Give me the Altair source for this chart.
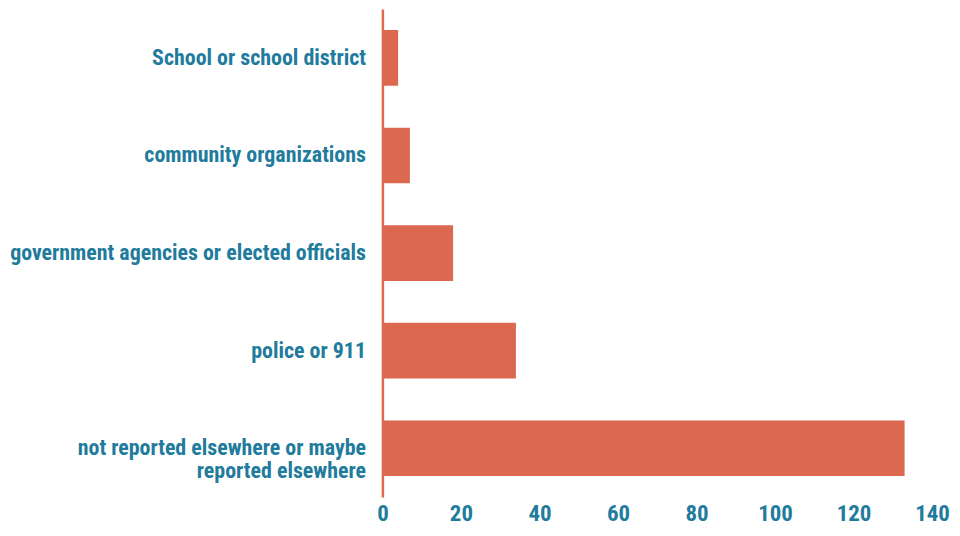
import altair as alt
import pandas as pd

categories = [
    "School or school district",
    "community organizations",
    "government agencies or elected officials\u00a0",
    "police or 911\u00a0",
    "not reported elsewhere or maybe\nreported elsewhere",
]
values = [4, 7, 18, 34, 133]
x_ticks = [0, 20, 40, 60, 80, 100, 120, 140]

df = pd.DataFrame({"category": categories, "value": values})

FONT = "'Roboto Condensed', 'Liberation Sans Narrow', 'DejaVu Sans Condensed', sans-serif"
TEAL = "#217b9c"
BAR = "#dc6850"

chart = (
    alt.Chart(df)
    .mark_bar(color=BAR)
    .encode(
        x=alt.X(
            "value:Q",
            scale=alt.Scale(domain=[0, 140], nice=False, zero=True),
            axis=alt.Axis(
                values=x_ticks,
                title=None,
                grid=False,
                domain=False,
                ticks=False,
                labelFont=FONT,
                labelFontWeight="bold",
                labelFontSize=23,
                labelColor=TEAL,
                labelPadding=6,
                labelFlush=False,
            ),
        ),
        y=alt.Y(
            "category:N",
            sort=categories,
            scale=alt.Scale(paddingInner=0.43, paddingOuter=0.215),
            axis=alt.Axis(
                title=None,
                ticks=False,
                domain=True,
                domainColor="#e0694f",
                domainWidth=2.5,
                labelFont=FONT,
                labelFontWeight="bold",
                labelFontSize=22,
                labelColor=TEAL,
                labelPadding=17,
                labelLimit=500,
                labelLineHeight=23,
                labelExpr="split(datum.label, '\\n')",
            ),
        ),
    )
    .properties(
        width=552,
        height=490,
        background="white",
        autosize=alt.AutoSizeParams(type="none"),
        padding={"left": 376, "top": 0, "right": 20, "bottom": 30},
    )
    .configure_view(strokeWidth=0, stroke="transparent")
)

chart.save("out.html", embed_options={"renderer": "svg", "actions": False})
